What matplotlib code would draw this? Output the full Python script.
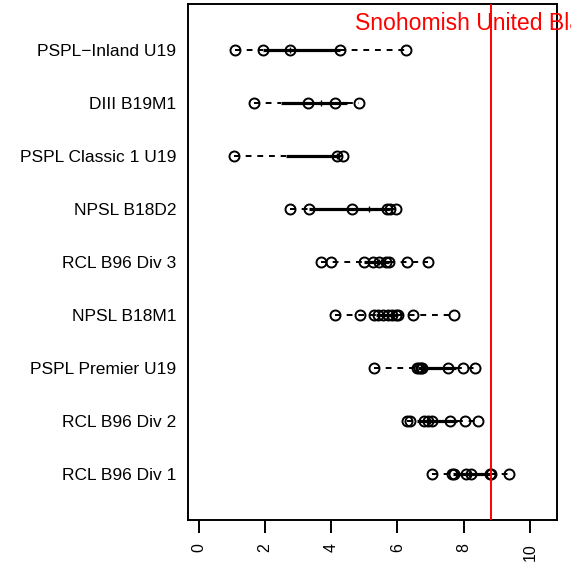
"""
Horizontal strip/box summary of team ratings by league,
with one team marked by a red reference line.
"""

import numpy as np
from matplotlib import pyplot as plt

plt.rcParams["font.family"] = ["Liberation Sans", "DejaVu Sans"]

# leagues, bottom to top
leagues = ["RCL B96 Div 1", "RCL B96 Div 2", "PSPL Premier U19", "NPSL B18M1",
           "RCL B96 Div 3", "NPSL B18D2", "PSPL Classic 1 U19", "DIII B19M1",
           "PSPL\u2212Inland U19"]

rcl_div1 = [7.05, 7.65, 7.72, 8.08, 8.22, 8.80, 8.82, 9.37]
rcl_div2 = [6.28, 6.38, 6.80, 6.92, 7.05, 7.58, 8.03, 8.43]
pspl_premier = [5.28, 6.60, 6.65, 6.70, 6.75, 7.53, 7.98, 8.33]
npsl_b18m1 = [4.12, 4.88, 5.28, 5.42, 5.57, 5.70, 5.85, 5.95, 6.02, 6.47, 7.70]
rcl_div3 = [3.68, 3.98, 4.98, 5.25, 5.45, 5.65, 5.75, 6.28, 6.92]
npsl_b18d2 = [2.75, 3.33, 4.63, 5.67, 5.78, 5.95]
pspl_classic = [1.07, 4.17, 4.35]
diii_b19m1 = [1.67, 3.30, 4.10, 4.83]
pspl_inland = [1.10, 1.95, 2.75, 4.25, 6.25]

ratings = [rcl_div1, rcl_div2, pspl_premier, npsl_b18m1, rcl_div3,
           npsl_b18d2, pspl_classic, diii_b19m1, pspl_inland]

team_name = "Snohomish United Black"
team_rating = 8.82

x_ticks = [0, 2, 4, 6, 8, 10]


def fivenum(x):
    """Tukey five number summary (same as R's fivenum)"""
    x = np.sort(np.asarray(x, dtype=float))
    n = len(x)
    n4 = np.floor((n + 3) / 2) / 2
    d = np.array([1, n4, (n + 1) / 2, n + 1 - n4, n]) - 1
    return 0.5 * (x[np.floor(d).astype(int)] + x[np.ceil(d).astype(int)])


def main():
    fig = plt.figure(figsize=(5.71, 5.64), dpi=100)
    ax = fig.add_axes([0.3292, 0.0787, 0.6462, 0.9135])

    for pos, vals in enumerate(ratings, start=1):
        lo, q1, med, q3, hi = fivenum(vals)
        # whiskers
        ax.hlines([pos, pos], [lo, q3], [q1, hi], colors='k', lw=1.4,
                  linestyles=(0, (3, 3)))
        # box collapsed to a thick line
        ax.hlines(pos, q1, q3, colors='k', lw=2.3)
        ax.plot(med, pos, marker='|', color='k', ms=5, mew=1.0)
        # individual teams
        ax.plot(vals, [pos] * len(vals), 'o', mfc='none', mec='k',
                ms=7.2, mew=1.4, zorder=3)

    ax.axvline(team_rating, color='red', lw=1.4, zorder=4)
    # name runs off the right edge, as in the original
    ax.annotate(team_name, xy=(team_rating, len(ratings) + 0.5),
                xytext=(-98, 0), textcoords='offset points',
                ha='left', va='center', color='red', fontsize=16.6,
                annotation_clip=False, zorder=5)

    ax.set_xlim(-0.33, 10.82)
    ax.set_ylim(0.14, len(ratings) + 0.86)
    ax.set_xticks(x_ticks)
    ax.set_xticklabels([str(t) for t in x_ticks], rotation=90, fontsize=11.5)
    ax.set_yticks(np.arange(1, len(ratings) + 1))
    ax.set_yticklabels(leagues, fontsize=12.5)
    ax.tick_params(axis='x', length=9, width=1.4, pad=8)
    ax.tick_params(axis='y', length=0, pad=8.5)
    for s in ax.spines.values():
        s.set_linewidth(1.4)

    fig.savefig("out.png", dpi=100)


if __name__ == "__main__":
    main()
